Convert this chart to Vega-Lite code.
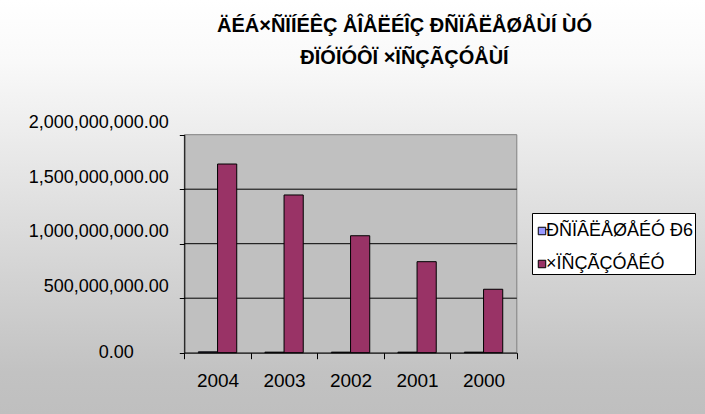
{
  "$schema": "https://vega.github.io/schema/vega-lite/v6.json",
  "width": 705,
  "height": 414,
  "autosize": "none",
  "padding": 0,
  "view": {
    "stroke": null,
    "fill": {
      "gradient": "linear",
      "x1": 0, "y1": 0, "x2": 0, "y2": 1,
      "stops": [
        {"offset": 0, "color": "#ffffff"},
        {"offset": 0.15, "color": "#f9f9f9"},
        {"offset": 0.9, "color": "#c2c2c2"},
        {"offset": 1, "color": "#bfbfbf"}
      ]
    }
  },
  "title": {
    "text": ["ÄÉÁ×ÑÏÍÉÊÇ ÅÎÅËÉÎÇ ÐÑÏÂËÅØÅÙÍ ÙÓ", "ÐÏÓÏÓÔÏ ×ÏÑÇÃÇÓÅÙÍ"],
    "font": "Liberation Sans",
    "fontWeight": "bold",
    "fontSize": 20,
    "lineHeight": 32,
    "color": "#000000",
    "anchor": "middle",
    "frame": "group",
    "baseline": "top",
    "dx": 52,
    "offset": -68
  },
  "datasets": {
    "bars": [
      {"year": "2004", "series": "ÐÑÏÂËÅØÅÉÓ Ð6", "value": 8000000},
      {"year": "2003", "series": "ÐÑÏÂËÅØÅÉÓ Ð6", "value": 5000000},
      {"year": "2002", "series": "ÐÑÏÂËÅØÅÉÓ Ð6", "value": 5000000},
      {"year": "2001", "series": "ÐÑÏÂËÅØÅÉÓ Ð6", "value": 5000000},
      {"year": "2000", "series": "ÐÑÏÂËÅØÅÉÓ Ð6", "value": 5000000},
      {"year": "2004", "series": "×ÏÑÇÃÇÓÅÉÓ", "value": 1731000000},
      {"year": "2003", "series": "×ÏÑÇÃÇÓÅÉÓ", "value": 1447000000},
      {"year": "2002", "series": "×ÏÑÇÃÇÓÅÉÓ", "value": 1073000000},
      {"year": "2001", "series": "×ÏÑÇÃÇÓÅÉÓ", "value": 835000000},
      {"year": "2000", "series": "×ÏÑÇÃÇÓÅÉÓ", "value": 582000000}
    ],
    "plotarea": [
      {"first": "2004", "last": "2000", "low": 0, "high": 2000000000}
    ],
    "grid": [
      {"level": 500000000},
      {"level": 1000000000},
      {"level": 1500000000}
    ]
  },
  "layer": [
    {
      "data": {"name": "plotarea"},
      "mark": {"type": "rect", "fill": "#c0c0c0", "stroke": "#808080", "strokeWidth": 1},
      "encoding": {
        "x": {"field": "first", "type": "nominal", "bandPosition": 0, "title": null},
        "x2": {"field": "last", "bandPosition": 1},
        "y": {"field": "low", "type": "quantitative", "title": null},
        "y2": {"field": "high"}
      }
    },
    {
      "data": {"name": "grid"},
      "mark": {"type": "rule", "color": "#000000", "strokeWidth": 1},
      "encoding": {
        "x": {"datum": "2004", "type": "nominal", "bandPosition": 0, "title": null},
        "x2": {"datum": "2000", "bandPosition": 1},
        "y": {"field": "level", "type": "quantitative", "title": null}
      }
    },
    {
      "data": {"name": "bars"},
      "mark": {"type": "bar", "stroke": "#000000", "strokeWidth": 1},
      "encoding": {
        "x": {
          "field": "year",
          "type": "nominal",
          "sort": null,
          "title": null,
          "scale": {
            "domain": ["2004", "2003", "2002", "2001", "2000"],
            "range": [184.3, 516.8],
            "paddingInner": 0,
            "paddingOuter": 0
          },
          "axis": {
            "orient": "bottom",
            "offset": -61.3,
            "domainColor": "#000000",
            "grid": false,
            "bandPosition": 0.5,
            "tickBand": "extent",
            "tickSize": 6,
            "tickColor": "#000000",
            "labelAngle": 0,
            "labelAlign": "center",
            "labelFont": "Liberation Sans",
            "labelFontSize": 19,
            "labelColor": "#000000",
            "labelPadding": 22,
            "zindex": 1
          }
        },
        "xOffset": {
          "field": "series",
          "type": "nominal",
          "sort": null,
          "scale": {
            "domain": ["ÐÑÏÂËÅØÅÉÓ Ð6", "×ÏÑÇÃÇÓÅÉÓ"],
            "paddingInner": 0,
            "paddingOuter": 0.732
          }
        },
        "y": {
          "field": "value",
          "type": "quantitative",
          "title": null,
          "scale": {"domain": [0, 2000000000], "range": [352.7, 134.7], "nice": false, "zero": false},
          "axis": {
            "orient": "left",
            "offset": -184.3,
            "domainColor": "#000000",
            "grid": false,
            "values": [0, 500000000, 1000000000, 1500000000, 2000000000],
            "format": ",.2f",
            "tickSize": 5,
            "tickColor": "#000000",
            "labelFont": "Liberation Sans",
            "labelFontSize": 18,
            "labelColor": "#000000",
            "labelPadding": {"condition": {"test": "datum.value === 0", "value": 46}, "value": 11},
            "labelOffset": {"condition": {"test": "datum.value === 0", "value": 0}, "value": -12},
            "zindex": 1
          }
        },
        "color": {
          "field": "series",
          "type": "nominal",
          "sort": null,
          "scale": {
            "domain": ["ÐÑÏÂËÅØÅÉÓ Ð6", "×ÏÑÇÃÇÓÅÉÓ"],
            "range": ["#9999ff", "#993366"]
          },
          "legend": {
            "orient": "none",
            "legendX": 532,
            "legendY": 213,
            "direction": "vertical",
            "title": " ",
            "titleFontSize": 6,
            "titlePadding": 2,
            "fillColor": "#ffffff",
            "strokeColor": "#000000",
            "padding": 1,
            "symbolType": "square",
            "symbolSize": 56,
            "symbolStrokeColor": "#000000",
            "symbolStrokeWidth": 1,
            "symbolOpacity": 1,
            "labelFont": "Liberation Sans",
            "labelFontSize": 18,
            "labelColor": "#000000",
            "labelOffset": -5,
            "labelLimit": 400,
            "rowPadding": 15
          }
        }
      }
    }
  ]
}
